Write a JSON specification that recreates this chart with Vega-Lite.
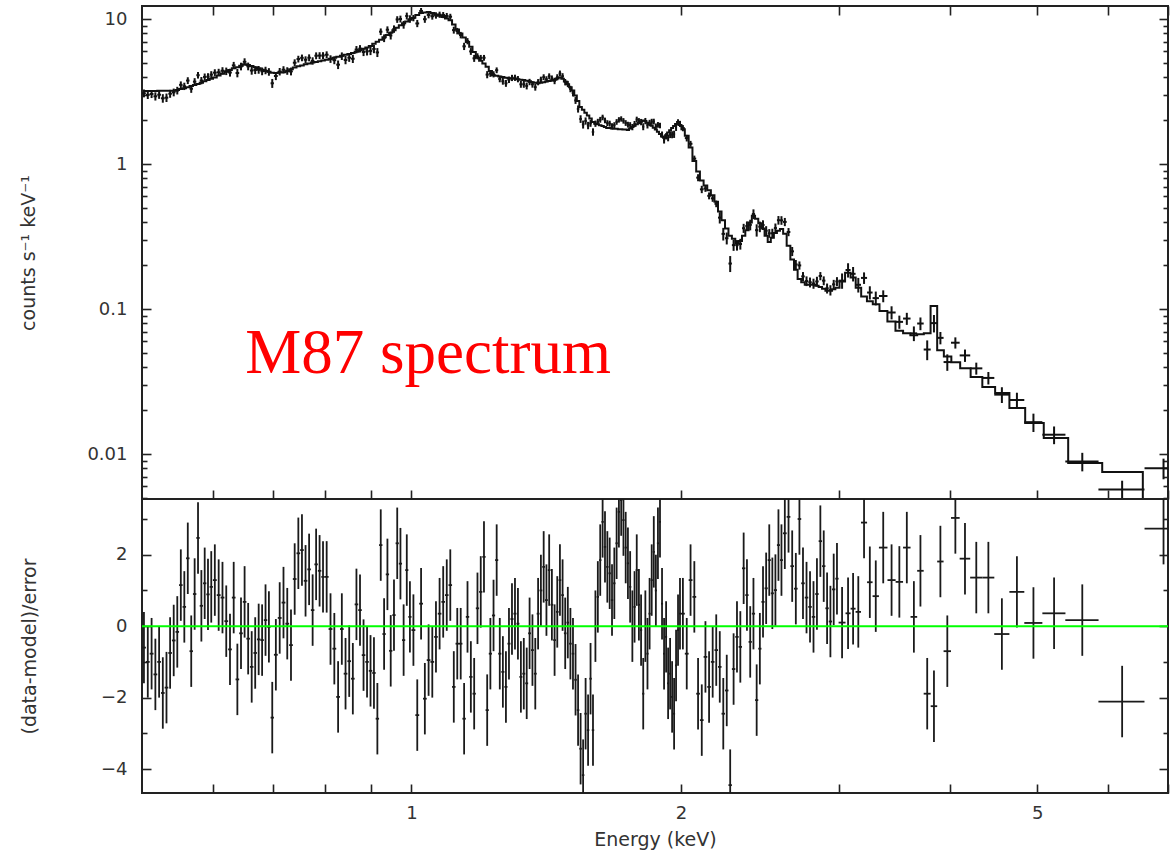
{
  "$schema": "https://vega.github.io/schema/vega-lite/v6.json",
  "background": "white",
  "padding": {"left": 18, "top": 4, "right": 2, "bottom": 10},
  "spacing": 0,
  "bounds": "flush",
  "datasets": {
    "spectrum": [
      {"E":0.5025,"dE":0.0025,"rate":3.075,"err":0.191,"model":3.19,"resid":-0.6,"rerr":1},
      {"E":0.5075,"dE":0.0025,"rate":2.999,"err":0.191,"model":3.19,"resid":-1.0,"rerr":1},
      {"E":0.5125,"dE":0.0025,"rate":3.043,"err":0.191,"model":3.19,"resid":-0.77,"rerr":1},
      {"E":0.5175,"dE":0.0025,"rate":2.932,"err":0.191,"model":3.19,"resid":-1.35,"rerr":1},
      {"E":0.5225,"dE":0.0025,"rate":3.008,"err":0.192,"model":3.20,"resid":-1.0,"rerr":1},
      {"E":0.5275,"dE":0.0025,"rate":2.841,"err":0.192,"model":3.20,"resid":-1.87,"rerr":1},
      {"E":0.5325,"dE":0.0025,"rate":2.870,"err":0.192,"model":3.20,"resid":-1.72,"rerr":1},
      {"E":0.5375,"dE":0.0025,"rate":3.056,"err":0.192,"model":3.20,"resid":-0.75,"rerr":1},
      {"E":0.5425,"dE":0.0025,"rate":3.123,"err":0.192,"model":3.20,"resid":-0.4,"rerr":1},
      {"E":0.5475,"dE":0.0025,"rate":3.214,"err":0.195,"model":3.245,"resid":-0.16,"rerr":1},
      {"E":0.5525,"dE":0.0025,"rate":3.517,"err":0.197,"model":3.29,"resid":1.15,"rerr":1},
      {"E":0.5575,"dE":0.0025,"rate":3.438,"err":0.200,"model":3.33,"resid":0.54,"rerr":1},
      {"E":0.5625,"dE":0.0025,"rate":3.765,"err":0.203,"model":3.38,"resid":1.9,"rerr":1},
      {"E":0.5675,"dE":0.0025,"rate":3.305,"err":0.207,"model":3.45,"resid":-0.7,"rerr":1},
      {"E":0.5725,"dE":0.0025,"rate":3.700,"err":0.211,"model":3.51,"resid":0.9,"rerr":1},
      {"E":0.5775,"dE":0.0025,"rate":4.099,"err":0.214,"model":3.57,"resid":2.47,"rerr":1},
      {"E":0.5825,"dE":0.0025,"rate":3.764,"err":0.218,"model":3.64,"resid":0.57,"rerr":1},
      {"E":0.5875,"dE":0.0025,"rate":3.988,"err":0.223,"model":3.72,"resid":1.2,"rerr":1},
      {"E":0.5925,"dE":0.0025,"rate":4.003,"err":0.228,"model":3.80,"resid":0.89,"rerr":1},
      {"E":0.5975,"dE":0.0025,"rate":4.136,"err":0.233,"model":3.88,"resid":1.1,"rerr":1},
      {"E":0.603,"dE":0.003,"rate":4.267,"err":0.238,"model":3.96,"resid":1.29,"rerr":1},
      {"E":0.609,"dE":0.003,"rate":4.293,"err":0.245,"model":4.08,"resid":0.87,"rerr":1},
      {"E":0.615,"dE":0.003,"rate":4.402,"err":0.252,"model":4.20,"resid":0.8,"rerr":1},
      {"E":0.621,"dE":0.003,"rate":4.366,"err":0.260,"model":4.33,"resid":0.14,"rerr":1},
      {"E":0.627,"dE":0.003,"rate":4.276,"err":0.267,"model":4.45,"resid":-0.65,"rerr":1},
      {"E":0.633,"dE":0.003,"rate":4.789,"err":0.274,"model":4.57,"resid":0.8,"rerr":1},
      {"E":0.639,"dE":0.003,"rate":4.243,"err":0.280,"model":4.66,"resid":-1.49,"rerr":1},
      {"E":0.645,"dE":0.003,"rate":4.713,"err":0.286,"model":4.77,"resid":-0.2,"rerr":1},
      {"E":0.651,"dE":0.003,"rate":5.069,"err":0.292,"model":4.87,"resid":0.68,"rerr":1},
      {"E":0.657,"dE":0.003,"rate":4.719,"err":0.289,"model":4.82,"resid":-0.35,"rerr":1},
      {"E":0.663,"dE":0.003,"rate":4.416,"err":0.284,"model":4.74,"resid":-1.14,"rerr":1},
      {"E":0.669,"dE":0.003,"rate":4.450,"err":0.280,"model":4.66,"resid":-0.75,"rerr":1},
      {"E":0.675,"dE":0.003,"rate":4.469,"err":0.274,"model":4.57,"resid":-0.37,"rerr":1},
      {"E":0.681,"dE":0.003,"rate":4.365,"err":0.268,"model":4.47,"resid":-0.39,"rerr":1},
      {"E":0.687,"dE":0.003,"rate":4.425,"err":0.263,"model":4.38,"resid":0.17,"rerr":1},
      {"E":0.693,"dE":0.003,"rate":4.325,"err":0.260,"model":4.33,"resid":-0.02,"rerr":1},
      {"E":0.699,"dE":0.003,"rate":3.606,"err":0.256,"model":4.26,"resid":-2.56,"rerr":1},
      {"E":0.7055,"dE":0.0035,"rate":4.046,"err":0.255,"model":4.25,"resid":-0.8,"rerr":1},
      {"E":0.7125,"dE":0.0035,"rate":4.339,"err":0.257,"model":4.28,"resid":0.23,"rerr":1},
      {"E":0.7195,"dE":0.0035,"rate":4.470,"err":0.258,"model":4.30,"resid":0.66,"rerr":1},
      {"E":0.7265,"dE":0.0035,"rate":4.388,"err":0.262,"model":4.37,"resid":0.07,"rerr":1},
      {"E":0.7335,"dE":0.0035,"rate":4.357,"err":0.270,"model":4.50,"resid":-0.53,"rerr":1},
      {"E":0.7405,"dE":0.0035,"rate":4.997,"err":0.278,"model":4.63,"resid":1.32,"rerr":1},
      {"E":0.7475,"dE":0.0035,"rate":5.298,"err":0.283,"model":4.72,"resid":2.04,"rerr":1},
      {"E":0.7545,"dE":0.0035,"rate":5.402,"err":0.287,"model":4.79,"resid":2.13,"rerr":1},
      {"E":0.7615,"dE":0.0035,"rate":5.241,"err":0.292,"model":4.87,"resid":1.27,"rerr":1},
      {"E":0.7685,"dE":0.0035,"rate":5.411,"err":0.296,"model":4.94,"resid":1.59,"rerr":1},
      {"E":0.7755,"dE":0.0035,"rate":5.145,"err":0.301,"model":5.01,"resid":0.45,"rerr":1},
      {"E":0.7825,"dE":0.0035,"rate":5.585,"err":0.304,"model":5.06,"resid":1.73,"rerr":1},
      {"E":0.7895,"dE":0.0035,"rate":5.596,"err":0.307,"model":5.12,"resid":1.55,"rerr":1},
      {"E":0.7965,"dE":0.0035,"rate":5.598,"err":0.310,"model":5.17,"resid":1.38,"rerr":1},
      {"E":0.804,"dE":0.004,"rate":5.674,"err":0.314,"model":5.24,"resid":1.38,"rerr":1},
      {"E":0.812,"dE":0.004,"rate":5.304,"err":0.320,"model":5.33,"resid":-0.08,"rerr":1},
      {"E":0.820,"dE":0.004,"rate":5.206,"err":0.325,"model":5.41,"resid":-0.63,"rerr":1},
      {"E":0.828,"dE":0.004,"rate":4.847,"err":0.330,"model":5.50,"resid":-1.98,"rerr":1},
      {"E":0.836,"dE":0.004,"rate":5.553,"err":0.335,"model":5.58,"resid":-0.08,"rerr":1},
      {"E":0.844,"dE":0.004,"rate":5.218,"err":0.340,"model":5.67,"resid":-1.33,"rerr":1},
      {"E":0.852,"dE":0.004,"rate":5.412,"err":0.345,"model":5.75,"resid":-0.98,"rerr":1},
      {"E":0.860,"dE":0.004,"rate":5.325,"err":0.350,"model":5.84,"resid":-1.47,"rerr":1},
      {"E":0.868,"dE":0.004,"rate":6.157,"err":0.356,"model":5.94,"resid":0.61,"rerr":1},
      {"E":0.876,"dE":0.004,"rate":6.244,"err":0.365,"model":6.08,"resid":0.45,"rerr":1},
      {"E":0.884,"dE":0.004,"rate":5.927,"err":0.374,"model":6.23,"resid":-0.81,"rerr":1},
      {"E":0.892,"dE":0.004,"rate":5.988,"err":0.382,"model":6.37,"resid":-1.0,"rerr":1},
      {"E":0.900,"dE":0.004,"rate":6.031,"err":0.391,"model":6.52,"resid":-1.25,"rerr":1},
      {"E":0.908,"dE":0.004,"rate":6.219,"err":0.405,"model":6.75,"resid":-1.31,"rerr":1},
      {"E":0.916,"dE":0.004,"rate":5.887,"err":0.418,"model":6.97,"resid":-2.59,"rerr":1},
      {"E":0.924,"dE":0.004,"rate":8.181,"err":0.432,"model":7.20,"resid":2.27,"rerr":1},
      {"E":0.932,"dE":0.004,"rate":7.381,"err":0.449,"model":7.48,"resid":-0.22,"rerr":1},
      {"E":0.940,"dE":0.004,"rate":8.435,"err":0.466,"model":7.76,"resid":1.45,"rerr":1},
      {"E":0.948,"dE":0.004,"rate":7.707,"err":0.482,"model":8.04,"resid":-0.69,"rerr":1},
      {"E":0.956,"dE":0.004,"rate":8.536,"err":0.503,"model":8.38,"resid":0.31,"rerr":1},
      {"E":0.964,"dE":0.004,"rate":9.934,"err":0.523,"model":8.72,"resid":2.32,"rerr":1},
      {"E":0.972,"dE":0.004,"rate":10.01,"err":0.544,"model":9.06,"resid":1.75,"rerr":1},
      {"E":0.980,"dE":0.004,"rate":9.141,"err":0.562,"model":9.36,"resid":-0.39,"rerr":1},
      {"E":0.988,"dE":0.004,"rate":10.50,"err":0.576,"model":9.60,"resid":1.57,"rerr":1},
      {"E":0.996,"dE":0.004,"rate":10.02,"err":0.592,"model":9.87,"resid":0.26,"rerr":1},
      {"E":1.005,"dE":0.005,"rate":10.16,"err":0.511,"model":10.22,"resid":-0.11,"rerr":1},
      {"E":1.015,"dE":0.005,"rate":9.324,"err":0.533,"model":10.65,"resid":-2.49,"rerr":1},
      {"E":1.025,"dE":0.005,"rate":11.37,"err":0.551,"model":11.02,"resid":0.63,"rerr":1},
      {"E":1.035,"dE":0.005,"rate":9.973,"err":0.555,"model":11.10,"resid":-2.03,"rerr":1},
      {"E":1.045,"dE":0.005,"rate":10.67,"err":0.560,"model":11.20,"resid":-0.95,"rerr":1},
      {"E":1.055,"dE":0.005,"rate":10.45,"err":0.550,"model":11.00,"resid":-1.0,"rerr":1},
      {"E":1.065,"dE":0.005,"rate":10.60,"err":0.538,"model":10.76,"resid":-0.3,"rerr":1},
      {"E":1.075,"dE":0.005,"rate":10.72,"err":0.527,"model":10.54,"resid":0.35,"rerr":1},
      {"E":1.085,"dE":0.005,"rate":10.66,"err":0.516,"model":10.31,"resid":0.68,"rerr":1},
      {"E":1.095,"dE":0.005,"rate":10.51,"err":0.504,"model":10.07,"resid":0.87,"rerr":1},
      {"E":1.105,"dE":0.005,"rate":10.38,"err":0.491,"model":9.82,"resid":1.15,"rerr":1},
      {"E":1.115,"dE":0.005,"rate":8.391,"err":0.459,"model":9.17,"resid":-1.7,"rerr":1},
      {"E":1.125,"dE":0.005,"rate":8.263,"err":0.424,"model":8.47,"resid":-0.49,"rerr":1},
      {"E":1.135,"dE":0.005,"rate":7.755,"err":0.398,"model":7.95,"resid":-0.49,"rerr":1},
      {"E":1.145,"dE":0.005,"rate":6.485,"err":0.373,"model":7.45,"resid":-2.59,"rerr":1},
      {"E":1.155,"dE":0.005,"rate":7.040,"err":0.348,"model":6.95,"resid":0.26,"rerr":1},
      {"E":1.165,"dE":0.005,"rate":5.983,"err":0.322,"model":6.44,"resid":-1.42,"rerr":1},
      {"E":1.175,"dE":0.005,"rate":5.361,"err":0.296,"model":5.92,"resid":-1.89,"rerr":1},
      {"E":1.185,"dE":0.005,"rate":5.535,"err":0.270,"model":5.40,"resid":0.5,"rerr":1},
      {"E":1.195,"dE":0.005,"rate":5.397,"err":0.258,"model":5.15,"resid":0.96,"rerr":1},
      {"E":1.205,"dE":0.005,"rate":5.408,"err":0.247,"model":4.93,"resid":1.94,"rerr":1},
      {"E":1.215,"dE":0.005,"rate":4.139,"err":0.235,"model":4.69,"resid":-2.35,"rerr":1},
      {"E":1.225,"dE":0.005,"rate":4.211,"err":0.219,"model":4.38,"resid":-0.77,"rerr":1},
      {"E":1.235,"dE":0.005,"rate":4.162,"err":0.205,"model":4.10,"resid":0.3,"rerr":1},
      {"E":1.245,"dE":0.005,"rate":4.436,"err":0.203,"model":4.06,"resid":1.85,"rerr":1},
      {"E":1.255,"dE":0.005,"rate":3.865,"err":0.201,"model":4.02,"resid":-0.77,"rerr":1},
      {"E":1.265,"dE":0.005,"rate":3.725,"err":0.199,"model":3.98,"resid":-1.28,"rerr":1},
      {"E":1.275,"dE":0.005,"rate":3.605,"err":0.197,"model":3.94,"resid":-1.7,"rerr":1},
      {"E":1.285,"dE":0.005,"rate":3.814,"err":0.196,"model":3.91,"resid":-0.49,"rerr":1},
      {"E":1.295,"dE":0.005,"rate":3.929,"err":0.195,"model":3.89,"resid":0.2,"rerr":1},
      {"E":1.305,"dE":0.005,"rate":3.938,"err":0.194,"model":3.87,"resid":0.35,"rerr":1},
      {"E":1.315,"dE":0.005,"rate":3.853,"err":0.192,"model":3.84,"resid":0.07,"rerr":1},
      {"E":1.325,"dE":0.005,"rate":3.549,"err":0.191,"model":3.82,"resid":-1.42,"rerr":1},
      {"E":1.335,"dE":0.005,"rate":3.547,"err":0.190,"model":3.80,"resid":-1.33,"rerr":1},
      {"E":1.345,"dE":0.005,"rate":3.459,"err":0.188,"model":3.76,"resid":-1.6,"rerr":1},
      {"E":1.355,"dE":0.005,"rate":3.683,"err":0.186,"model":3.72,"resid":-0.2,"rerr":1},
      {"E":1.365,"dE":0.005,"rate":3.547,"err":0.184,"model":3.67,"resid":-0.67,"rerr":1},
      {"E":1.375,"dE":0.005,"rate":3.389,"err":0.182,"model":3.63,"resid":-1.33,"rerr":1},
      {"E":1.385,"dE":0.005,"rate":3.673,"err":0.181,"model":3.61,"resid":0.35,"rerr":1},
      {"E":1.395,"dE":0.005,"rate":3.822,"err":0.182,"model":3.64,"resid":1.0,"rerr":1},
      {"E":1.405,"dE":0.005,"rate":3.975,"err":0.184,"model":3.67,"resid":1.66,"rerr":1},
      {"E":1.415,"dE":0.005,"rate":3.845,"err":0.186,"model":3.71,"resid":0.73,"rerr":1},
      {"E":1.425,"dE":0.005,"rate":4.034,"err":0.187,"model":3.74,"resid":1.57,"rerr":1},
      {"E":1.435,"dE":0.005,"rate":3.893,"err":0.189,"model":3.78,"resid":0.6,"rerr":1},
      {"E":1.445,"dE":0.005,"rate":3.745,"err":0.191,"model":3.82,"resid":-0.39,"rerr":1},
      {"E":1.455,"dE":0.005,"rate":3.968,"err":0.195,"model":3.89,"resid":0.4,"rerr":1},
      {"E":1.465,"dE":0.005,"rate":4.215,"err":0.198,"model":3.96,"resid":1.29,"rerr":1},
      {"E":1.475,"dE":0.005,"rate":4.038,"err":0.194,"model":3.87,"resid":0.87,"rerr":1},
      {"E":1.485,"dE":0.005,"rate":3.673,"err":0.186,"model":3.71,"resid":-0.2,"rerr":1},
      {"E":1.495,"dE":0.005,"rate":3.568,"err":0.178,"model":3.55,"resid":0.1,"rerr":1},
      {"E":1.505,"dE":0.005,"rate":3.297,"err":0.169,"model":3.38,"resid":-0.49,"rerr":1},
      {"E":1.515,"dE":0.005,"rate":3.086,"err":0.161,"model":3.21,"resid":-0.77,"rerr":1},
      {"E":1.525,"dE":0.005,"rate":2.747,"err":0.149,"model":2.97,"resid":-1.5,"rerr":1},
      {"E":1.535,"dE":0.005,"rate":2.400,"err":0.136,"model":2.72,"resid":-2.35,"rerr":1},
      {"E":1.545,"dE":0.005,"rate":2.046,"err":0.124,"model":2.47,"resid":-3.43,"rerr":1},
      {"E":1.555,"dE":0.005,"rate":1.876,"err":0.119,"model":2.37,"resid":-4.17,"rerr":1},
      {"E":1.565,"dE":0.005,"rate":1.983,"err":0.113,"model":2.26,"resid":-2.45,"rerr":1},
      {"E":1.575,"dE":0.005,"rate":1.846,"err":0.108,"model":2.16,"resid":-2.91,"rerr":1},
      {"E":1.585,"dE":0.005,"rate":1.909,"err":0.103,"model":2.06,"resid":-1.47,"rerr":1},
      {"E":1.595,"dE":0.005,"rate":1.666,"err":0.098,"model":1.95,"resid":-2.91,"rerr":1},
      {"E":1.605,"dE":0.005,"rate":1.900,"err":0.095,"model":1.90,"resid":0,"rerr":1},
      {"E":1.615,"dE":0.005,"rate":1.957,"err":0.094,"model":1.88,"resid":0.82,"rerr":1},
      {"E":1.625,"dE":0.005,"rate":2.021,"err":0.093,"model":1.85,"resid":1.85,"rerr":1},
      {"E":1.635,"dE":0.005,"rate":2.097,"err":0.092,"model":1.83,"resid":2.92,"rerr":1},
      {"E":1.645,"dE":0.005,"rate":2.000,"err":0.090,"model":1.80,"resid":2.22,"rerr":1},
      {"E":1.655,"dE":0.005,"rate":1.917,"err":0.089,"model":1.77,"resid":1.66,"rerr":1},
      {"E":1.665,"dE":0.005,"rate":1.901,"err":0.089,"model":1.77,"resid":1.48,"rerr":1},
      {"E":1.675,"dE":0.005,"rate":1.824,"err":0.088,"model":1.76,"resid":0.73,"rerr":1},
      {"E":1.685,"dE":0.005,"rate":1.855,"err":0.088,"model":1.75,"resid":1.2,"rerr":1},
      {"E":1.695,"dE":0.005,"rate":1.953,"err":0.088,"model":1.75,"resid":2.32,"rerr":1},
      {"E":1.705,"dE":0.005,"rate":2.018,"err":0.087,"model":1.74,"resid":3.2,"rerr":1},
      {"E":1.715,"dE":0.005,"rate":2.047,"err":0.087,"model":1.74,"resid":3.53,"rerr":1},
      {"E":1.725,"dE":0.005,"rate":1.987,"err":0.087,"model":1.73,"resid":2.97,"rerr":1},
      {"E":1.735,"dE":0.005,"rate":1.920,"err":0.087,"model":1.73,"resid":2.2,"rerr":1},
      {"E":1.745,"dE":0.005,"rate":1.871,"err":0.086,"model":1.72,"resid":1.76,"rerr":1},
      {"E":1.755,"dE":0.005,"rate":1.857,"err":0.088,"model":1.76,"resid":1.1,"rerr":1},
      {"E":1.765,"dE":0.005,"rate":1.800,"err":0.090,"model":1.80,"resid":0,"rerr":1},
      {"E":1.775,"dE":0.005,"rate":1.890,"err":0.092,"model":1.84,"resid":0.54,"rerr":1},
      {"E":1.785,"dE":0.005,"rate":2.028,"err":0.094,"model":1.88,"resid":1.57,"rerr":1},
      {"E":1.795,"dE":0.005,"rate":1.978,"err":0.096,"model":1.92,"resid":0.6,"rerr":1},
      {"E":1.805,"dE":0.005,"rate":1.949,"err":0.098,"model":1.96,"resid":-0.11,"rerr":1},
      {"E":1.815,"dE":0.005,"rate":1.811,"err":0.100,"model":2.00,"resid":-1.89,"rerr":1},
      {"E":1.825,"dE":0.005,"rate":1.980,"err":0.099,"model":1.98,"resid":0,"rerr":1},
      {"E":1.835,"dE":0.005,"rate":1.856,"err":0.097,"model":1.93,"resid":-0.77,"rerr":1},
      {"E":1.845,"dE":0.005,"rate":1.923,"err":0.095,"model":1.89,"resid":0.35,"rerr":1},
      {"E":1.855,"dE":0.005,"rate":1.959,"err":0.092,"model":1.84,"resid":1.29,"rerr":1},
      {"E":1.865,"dE":0.005,"rate":1.965,"err":0.089,"model":1.78,"resid":2.08,"rerr":1},
      {"E":1.875,"dE":0.005,"rate":1.817,"err":0.087,"model":1.73,"resid":1.0,"rerr":1},
      {"E":1.885,"dE":0.005,"rate":1.864,"err":0.084,"model":1.67,"resid":2.32,"rerr":1},
      {"E":1.895,"dE":0.005,"rate":1.845,"err":0.081,"model":1.61,"resid":2.92,"rerr":1},
      {"E":1.905,"dE":0.005,"rate":1.599,"err":0.078,"model":1.55,"resid":0.63,"rerr":1},
      {"E":1.915,"dE":0.005,"rate":1.461,"err":0.076,"model":1.52,"resid":-0.77,"rerr":1},
      {"E":1.925,"dE":0.005,"rate":1.556,"err":0.079,"model":1.58,"resid":-0.3,"rerr":1},
      {"E":1.935,"dE":0.005,"rate":1.518,"err":0.083,"model":1.65,"resid":-1.6,"rerr":1},
      {"E":1.945,"dE":0.005,"rate":1.596,"err":0.086,"model":1.71,"resid":-1.33,"rerr":1},
      {"E":1.955,"dE":0.005,"rate":1.595,"err":0.089,"model":1.77,"resid":-1.98,"rerr":1},
      {"E":1.965,"dE":0.005,"rate":1.606,"err":0.092,"model":1.83,"resid":-2.45,"rerr":1},
      {"E":1.975,"dE":0.005,"rate":1.786,"err":0.095,"model":1.89,"resid":-1.1,"rerr":1},
      {"E":1.985,"dE":0.005,"rate":1.939,"err":0.098,"model":1.95,"resid":-0.11,"rerr":1},
      {"E":1.995,"dE":0.005,"rate":1.893,"err":0.093,"model":1.86,"resid":0.35,"rerr":1},
      {"E":2.01,"dE":0.01,"rate":1.77,"err":0.087,"model":1.74,"resid":0.35,"rerr":1},
      {"E":2.03,"dE":0.01,"rate":1.51,"err":0.079,"model":1.57,"resid":-0.77,"rerr":1},
      {"E":2.05,"dE":0.01,"rate":1.38,"err":0.065,"model":1.30,"resid":1.29,"rerr":1},
      {"E":2.07,"dE":0.01,"rate":1.09,"err":0.053,"model":1.05,"resid":0.82,"rerr":1},
      {"E":2.09,"dE":0.01,"rate":0.806,"err":0.045,"model":0.89,"resid":-1.89,"rerr":1},
      {"E":2.11,"dE":0.01,"rate":0.669,"err":0.039,"model":0.77,"resid":-2.63,"rerr":1},
      {"E":2.13,"dE":0.01,"rate":0.679,"err":0.036,"model":0.71,"resid":-0.86,"rerr":1},
      {"E":2.15,"dE":0.01,"rate":0.604,"err":0.033,"model":0.66,"resid":-1.7,"rerr":1},
      {"E":2.17,"dE":0.01,"rate":0.580,"err":0.031,"model":0.61,"resid":-1.0,"rerr":1},
      {"E":2.19,"dE":0.01,"rate":0.532,"err":0.028,"model":0.55,"resid":-0.67,"rerr":1},
      {"E":2.21,"dE":0.01,"rate":0.427,"err":0.038,"model":0.47,"resid":-1.14,"rerr":1},
      {"E":2.23,"dE":0.01,"rate":0.330,"err":0.033,"model":0.41,"resid":-2.45,"rerr":1},
      {"E":2.25,"dE":0.01,"rate":0.308,"err":0.029,"model":0.36,"resid":-1.8,"rerr":1},
      {"E":2.27,"dE":0.01,"rate":0.206,"err":0.026,"model":0.32,"resid":-4.45,"rerr":1},
      {"E":2.29,"dE":0.01,"rate":0.276,"err":0.024,"model":0.305,"resid":-1.2,"rerr":1},
      {"E":2.31,"dE":0.01,"rate":0.276,"err":0.023,"model":0.283,"resid":-0.3,"rerr":1},
      {"E":2.33,"dE":0.01,"rate":0.281,"err":0.024,"model":0.295,"resid":-0.58,"rerr":1},
      {"E":2.35,"dE":0.01,"rate":0.361,"err":0.026,"model":0.32,"resid":1.62,"rerr":1},
      {"E":2.37,"dE":0.01,"rate":0.374,"err":0.028,"model":0.35,"resid":0.87,"rerr":1},
      {"E":2.39,"dE":0.01,"rate":0.381,"err":0.032,"model":0.395,"resid":-0.44,"rerr":1},
      {"E":2.41,"dE":0.01,"rate":0.452,"err":0.035,"model":0.44,"resid":0.35,"rerr":1},
      {"E":2.43,"dE":0.01,"rate":0.350,"err":0.034,"model":0.42,"resid":-2.07,"rerr":1},
      {"E":2.45,"dE":0.01,"rate":0.370,"err":0.031,"model":0.39,"resid":-0.63,"rerr":1},
      {"E":2.47,"dE":0.01,"rate":0.380,"err":0.029,"model":0.36,"resid":0.68,"rerr":1},
      {"E":2.49,"dE":0.01,"rate":0.347,"err":0.026,"model":0.32,"resid":1.06,"rerr":1},
      {"E":2.51,"dE":0.01,"rate":0.333,"err":0.023,"model":0.29,"resid":1.85,"rerr":1},
      {"E":2.53,"dE":0.01,"rate":0.333,"err":0.025,"model":0.31,"resid":0.92,"rerr":1},
      {"E":2.55,"dE":0.01,"rate":0.362,"err":0.027,"model":0.335,"resid":1.01,"rerr":1},
      {"E":2.57,"dE":0.01,"rate":0.410,"err":0.028,"model":0.347,"resid":2.27,"rerr":1},
      {"E":2.59,"dE":0.01,"rate":0.409,"err":0.028,"model":0.356,"resid":1.85,"rerr":1},
      {"E":2.6125,"dE":0.0125,"rate":0.399,"err":0.026,"model":0.33,"resid":2.6,"rerr":1},
      {"E":2.6375,"dE":0.0125,"rate":0.340,"err":0.022,"model":0.273,"resid":3.06,"rerr":1},
      {"E":2.6625,"dE":0.0125,"rate":0.250,"err":0.018,"model":0.22,"resid":1.68,"rerr":1},
      {"E":2.6875,"dE":0.0125,"rate":0.203,"err":0.015,"model":0.187,"resid":1.05,"rerr":1},
      {"E":2.7125,"dE":0.0125,"rate":0.200,"err":0.013,"model":0.161,"resid":3.0,"rerr":1},
      {"E":2.7375,"dE":0.0125,"rate":0.168,"err":0.012,"model":0.153,"resid":1.2,"rerr":1},
      {"E":2.7625,"dE":0.0125,"rate":0.156,"err":0.012,"model":0.147,"resid":0.8,"rerr":1},
      {"E":2.7875,"dE":0.0125,"rate":0.153,"err":0.012,"model":0.147,"resid":0.54,"rerr":1},
      {"E":2.8125,"dE":0.0125,"rate":0.150,"err":0.012,"model":0.147,"resid":0.26,"rerr":1},
      {"E":2.8375,"dE":0.0125,"rate":0.155,"err":0.012,"model":0.145,"resid":0.9,"rerr":1},
      {"E":2.8625,"dE":0.0125,"rate":0.169,"err":0.011,"model":0.142,"resid":2.38,"rerr":1},
      {"E":2.8875,"dE":0.0125,"rate":0.157,"err":0.011,"model":0.138,"resid":1.68,"rerr":1},
      {"E":2.9125,"dE":0.0125,"rate":0.139,"err":0.011,"model":0.134,"resid":0.5,"rerr":1},
      {"E":2.9375,"dE":0.0125,"rate":0.135,"err":0.011,"model":0.134,"resid":0.13,"rerr":1},
      {"E":2.9625,"dE":0.0125,"rate":0.148,"err":0.011,"model":0.137,"resid":1.03,"rerr":1},
      {"E":2.9875,"dE":0.0125,"rate":0.155,"err":0.011,"model":0.140,"resid":1.33,"rerr":1},
      {"E":3.027,"dE":0.027,"rate":0.157,"err":0.019,"model":0.155,"resid":0.1,"rerr":1},
      {"E":3.074,"dE":0.02,"rate":0.186,"err":0.021,"model":0.178,"resid":0.36,"rerr":1},
      {"E":3.114,"dE":0.02,"rate":0.175,"err":0.020,"model":0.165,"resid":0.49,"rerr":1},
      {"E":3.156,"dE":0.022,"rate":0.147,"err":0.017,"model":0.140,"resid":0.40,"rerr":1},
      {"E":3.203,"dE":0.025,"rate":0.164,"err":0.015,"model":0.122,"resid":2.90,"rerr":1},
      {"E":3.251,"dE":0.023,"rate":0.130,"err":0.0136,"model":0.113,"resid":1.23,"rerr":1},
      {"E":3.301,"dE":0.027,"rate":0.119,"err":0.013,"model":0.108,"resid":0.84,"rerr":1},
      {"E":3.365,"dE":0.037,"rate":0.123,"err":0.0116,"model":0.097,"resid":2.20,"rerr":1},
      {"E":3.438,"dE":0.036,"rate":0.0947,"err":0.0098,"model":0.082,"resid":1.29,"rerr":1},
      {"E":3.5075,"dE":0.0335,"rate":0.0816,"err":0.0085,"model":0.071,"resid":1.24,"rerr":1},
      {"E":3.5755,"dE":0.0345,"rate":0.086,"err":0.0082,"model":0.068,"resid":2.20,"rerr":1},
      {"E":3.641,"dE":0.031,"rate":0.068,"err":0.0079,"model":0.066,"resid":0.26,"rerr":1},
      {"E":3.703,"dE":0.031,"rate":0.0795,"err":0.008,"model":0.067,"resid":1.55,"rerr":1},
      {"E":3.768,"dE":0.034,"rate":0.0526,"err":0.0082,"model":0.068,"resid":-1.89,"rerr":1},
      {"E":3.834,"dE":0.032,"rate":0.080,"err":0.011,"model":0.105,"resid":-2.24,"rerr":1},
      {"E":3.898,"dE":0.032,"rate":0.0633,"err":0.0062,"model":0.052,"resid":1.81,"rerr":1},
      {"E":3.968,"dE":0.038,"rate":0.0431,"err":0.0056,"model":0.047,"resid":-0.70,"rerr":1},
      {"E":4.051,"dE":0.045,"rate":0.0586,"err":0.0052,"model":0.043,"resid":3.03,"rerr":1},
      {"E":4.1525,"dE":0.0565,"rate":0.0479,"err":0.0047,"model":0.039,"resid":1.89,"rerr":1},
      {"E":4.275,"dE":0.067,"rate":0.039,"err":0.0037,"model":0.034,"resid":1.36,"rerr":1},
      {"E":4.41,"dE":0.068,"rate":0.0335,"err":0.0033,"model":0.029,"resid":1.36,"rerr":1},
      {"E":4.566,"dE":0.089,"rate":0.0257,"err":0.0032,"model":0.0264,"resid":-0.22,"rerr":1},
      {"E":4.746,"dE":0.091,"rate":0.0236,"err":0.0029,"model":0.0208,"resid":0.96,"rerr":1},
      {"E":4.952,"dE":0.115,"rate":0.0166,"err":0.0024,"model":0.0164,"resid":0.09,"rerr":1},
      {"E":5.222,"dE":0.155,"rate":0.0136,"err":0.0019,"model":0.0129,"resid":0.36,"rerr":1},
      {"E":5.615,"dE":0.24,"rate":0.0089,"err":0.0013,"model":0.00867,"resid":0.17,"rerr":1},
      {"E":6.221,"dE":0.368,"rate":0.0057,"err":0.00085,"model":0.00751,"resid":-2.11,"rerr":1},
      {"E":6.92,"dE":0.33,"rate":0.0080,"err":0.0013,"model":0.0045,"resid":2.73,"rerr":1}
    ]
  },
  "data": {"name": "spectrum"},
  "vconcat": [
    {
      "width": 1026,
      "height": 493,
      "resolve": {"axis": {"x": "independent", "y": "independent"}},
      "layer": [
        {
          "mark": {"type": "line", "interpolate": "step", "color": "#111111", "strokeWidth": 2, "clip": true},
          "encoding": {
            "x": {
              "field": "E", "type": "quantitative",
              "scale": {"type": "log", "domain": [0.5, 7], "nice": false},
              "axis": {"orient": "bottom", "values": [0.6,0.7,0.8,0.9,1,2,3,4,5,6,7], "labels": false, "tickSize": -9, "title": null}
            },
            "y": {
              "field": "model", "type": "quantitative",
              "scale": {"type": "log", "domain": [0.0049, 12.3], "nice": false},
              "axis": {
                "orient": "left",
                "values": [0.005,0.006,0.007,0.008,0.009,0.01,0.02,0.03,0.04,0.05,0.06,0.07,0.08,0.09,0.1,0.2,0.3,0.4,0.5,0.6,0.7,0.8,0.9,1,2,3,4,5,6,7,8,9,10],
                "labelExpr": "datum.value == 0.01 || datum.value == 0.1 || datum.value == 1 || datum.value == 10 ? format(datum.value, '~g') : ''",
                "tickSize": {"condition": {"test": "datum.value == 0.01 || datum.value == 0.1 || datum.value == 1 || datum.value == 10", "value": -9}, "value": -5},
                "labelPadding": 24,
                "title": "counts s⁻¹  keV⁻¹",
                "titleX": -114,
                "titleBaseline": "middle"
              }
            }
          }
        },
        {
          "mark": {"type": "errorbar", "color": "#111111", "thickness": 2, "clip": true},
          "encoding": {
            "x": {"field": "E", "type": "quantitative", "axis": {"orient": "top", "values": [0.6,0.7,0.8,0.9,1,2,3,4,5,6,7], "labels": false, "tickSize": -9, "title": null}},
            "xError": {"field": "dE"},
            "y": {
              "field": "rate", "type": "quantitative",
              "axis": {
                "orient": "right",
                "values": [0.005,0.006,0.007,0.008,0.009,0.01,0.02,0.03,0.04,0.05,0.06,0.07,0.08,0.09,0.1,0.2,0.3,0.4,0.5,0.6,0.7,0.8,0.9,1,2,3,4,5,6,7,8,9,10],
                "labels": false,
                "tickSize": {"condition": {"test": "datum.value == 0.01 || datum.value == 0.1 || datum.value == 1 || datum.value == 10", "value": -9}, "value": -5},
                "title": null
              }
            }
          }
        },
        {
          "mark": {"type": "errorbar", "color": "#111111", "thickness": 2, "clip": true},
          "encoding": {
            "x": {"field": "E", "type": "quantitative", "axis": null},
            "y": {"field": "rate", "type": "quantitative", "axis": null},
            "yError": {"field": "err"}
          }
        },
        {
          "data": {"values": [{}]},
          "mark": {"type": "text", "text": "M87 spectrum", "font": "Liberation Serif", "fontSize": 63, "color": "#ff0000", "align": "left", "baseline": "alphabetic"},
          "encoding": {
            "x": {"datum": 0.652, "type": "quantitative", "axis": null},
            "y": {"datum": 0.0362, "type": "quantitative", "axis": null}
          }
        }
      ]
    },
    {
      "width": 1026,
      "height": 294,
      "resolve": {"axis": {"x": "independent", "y": "independent"}},
      "layer": [
        {
          "mark": {"type": "errorbar", "color": "#1a1a1a", "thickness": 1.8, "clip": true},
          "encoding": {
            "x": {
              "field": "E", "type": "quantitative",
              "scale": {"type": "log", "domain": [0.5, 7], "nice": false},
              "axis": {
                "orient": "bottom",
                "values": [0.6,0.7,0.8,0.9,1,2,3,4,5,6,7],
                "labelExpr": "datum.value == 1 || datum.value == 2 || datum.value == 5 ? format(datum.value, '~g') : ''",
                "tickSize": -9,
                "labelPadding": 20,
                "title": "Energy (keV)",
                "titleY": 46,
                "titleBaseline": "middle"
              }
            },
            "xError": {"field": "dE"},
            "y": {
              "field": "resid", "type": "quantitative",
              "scale": {"domain": [-4.67, 3.56], "nice": false, "zero": false},
              "axis": {
                "orient": "left",
                "values": [-4,-3,-2,-1,0,1,2,3],
                "labelExpr": "datum.value % 2 == 0 ? format(datum.value, '~g') : ''",
                "tickSize": {"condition": {"test": "datum.value % 2 == 0", "value": -9}, "value": -5},
                "labelPadding": 24,
                "title": "(data-model)/error",
                "titleX": -113,
                "titleBaseline": "middle"
              }
            }
          }
        },
        {
          "mark": {"type": "errorbar", "color": "#1a1a1a", "thickness": 1.8, "clip": true},
          "encoding": {
            "x": {"field": "E", "type": "quantitative", "axis": null},
            "y": {
              "field": "resid", "type": "quantitative",
              "axis": {
                "orient": "right",
                "values": [-4,-3,-2,-1,0,1,2,3],
                "labels": false,
                "tickSize": {"condition": {"test": "datum.value % 2 == 0", "value": -9}, "value": -5},
                "title": null
              }
            },
            "yError": {"field": "rerr"}
          }
        },
        {
          "data": {"values": [{}]},
          "mark": {"type": "rule", "color": "#00ff00", "strokeWidth": 2},
          "encoding": {
            "y": {"datum": 0, "type": "quantitative", "axis": null}
          }
        }
      ]
    }
  ],
  "config": {
    "view": {"stroke": "#222222", "strokeWidth": 2},
    "axis": {
      "domain": false,
      "grid": false,
      "tickColor": "#222222",
      "tickWidth": 1.6,
      "labelFont": "DejaVu Sans",
      "labelFontSize": 18,
      "labelColor": "#333333",
      "titleFont": "DejaVu Sans",
      "titleFontSize": 19,
      "titleFontWeight": "normal",
      "titleColor": "#333333",
      "labelOverlap": false,
      "labelFlush": false
    }
  }
}
